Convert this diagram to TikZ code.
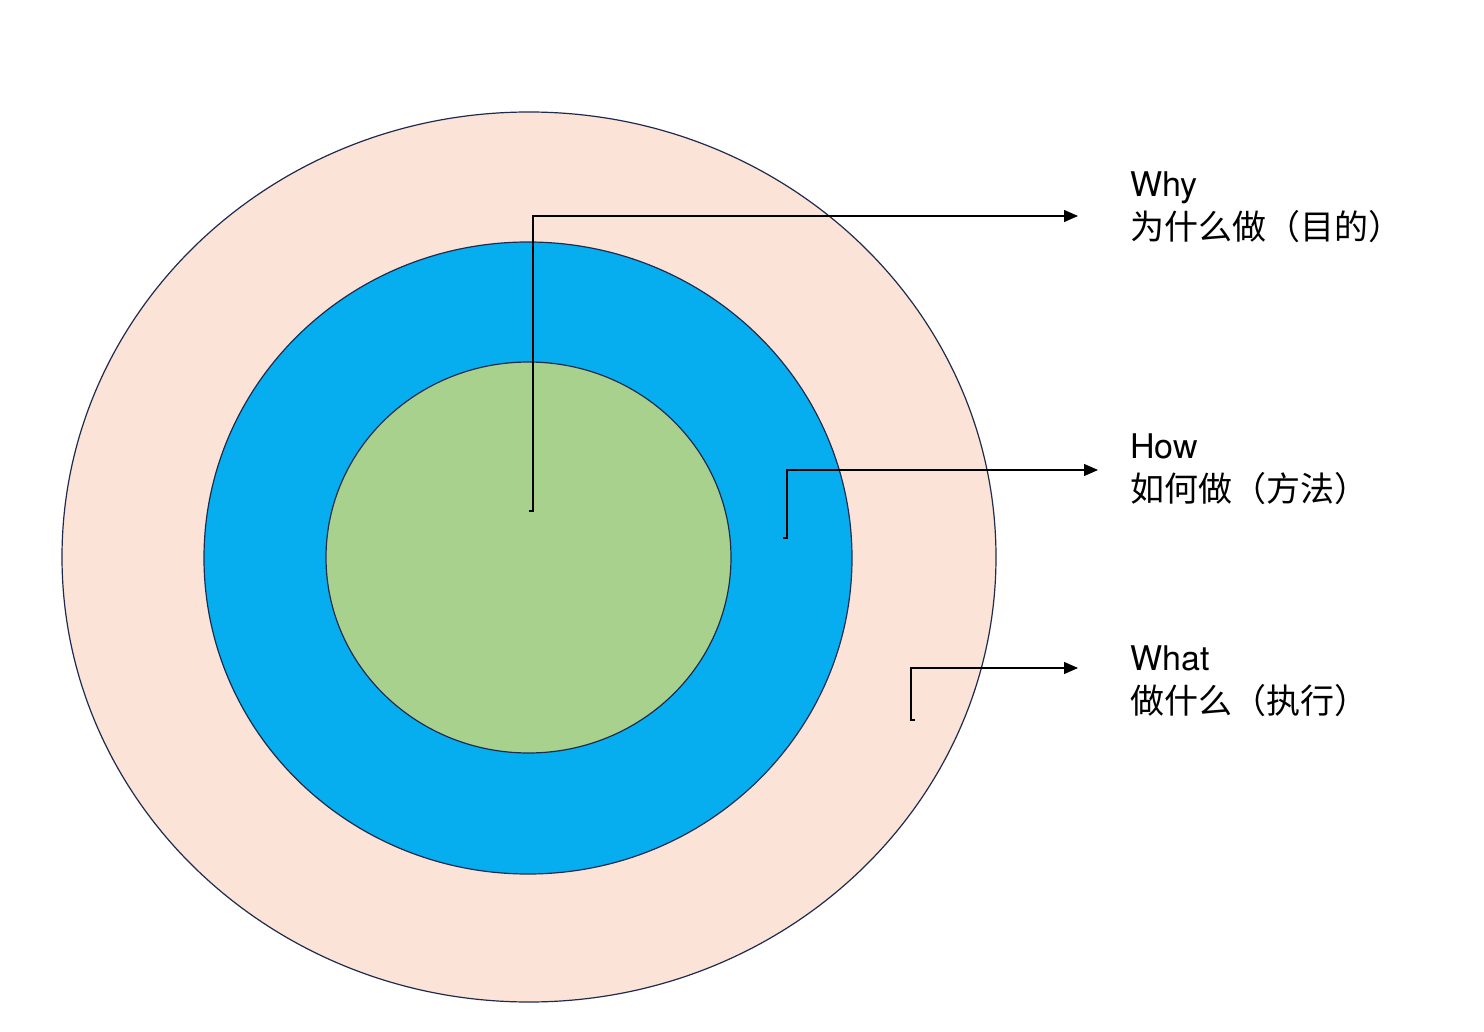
\documentclass[tikz,border=0pt]{standalone}
\usepackage{fontspec}
\setmainfont{TeX Gyre Heros}
\newfontfamily\cjk{Noto Sans CJK SC}
\usetikzlibrary{arrows.meta}
\definecolor{peach}{HTML}{FBE3D8}
\definecolor{sky}{HTML}{07AEEF}
\definecolor{leaf}{HTML}{A9D18E}
\definecolor{rim}{HTML}{1E2B4D}
\tikzset{
  ring/.style={draw=rim, line width=0.6pt},
  conn/.style={draw=black, line width=0.65pt, -{Triangle[length=7pt,width=6pt]}},
  lbl/.style={anchor=north west, inner sep=0pt, align=left, font=\fontsize{17pt}{21.5pt}\selectfont}
}
\begin{document}
\begin{tikzpicture}[x=0.5pt,y=-0.5pt]
\useasboundingbox (0,0) rectangle (1484,1032);
\fill[white] (0,0) rectangle (1484,1032);
\draw[ring, fill=peach] (529,557) ellipse [x radius=467, y radius=445];
\draw[ring, fill=sky] (528,558) ellipse [x radius=324, y radius=316];
\draw[ring, fill=leaf] (528.5,557.5) ellipse [x radius=202.5, y radius=195.5];
\coordinate (whyS) at (529,511);
\coordinate (whyE) at (1078,216);
\coordinate (howS) at (783,538);
\coordinate (howE) at (1098,470);
\coordinate (whatS) at (915,720);
\coordinate (whatE) at (1078,668);
\draw[conn] (whyS) -- ++(4,0) |- (whyE);
\draw[conn] (howS) -- ++(4,0) |- (howE);
\draw[conn] (whatS) -- ++(-4,0) |- (whatE);
\node[lbl] (why) at (1130,171) {Why\\{\cjk 为什么做（目的）}};
\node[lbl] (how) at (1130,433) {How\\{\cjk 如何做（方法）}};
\node[lbl] (what) at (1130,645) {What\\{\cjk 做什么（执行）}};
\end{tikzpicture}
\end{document}
